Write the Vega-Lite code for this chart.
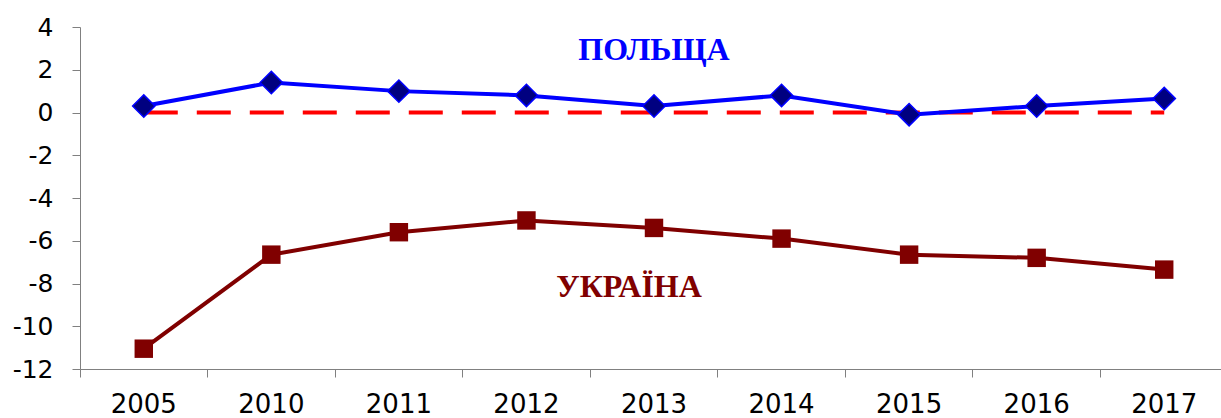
{
  "$schema": "https://vega.github.io/schema/vega-lite/v6.json",
  "width": 1148,
  "height": 342,
  "autosize": {"type": "none"},
  "padding": {"left": 80, "top": 27, "right": 0, "bottom": 49},
  "background": "white",
  "config": {"view": {"stroke": null}},
  "datasets": {
    "series": [
      {"year": "2005", "country": "ПОЛЬЩА", "value": 0.3},
      {"year": "2010", "country": "ПОЛЬЩА", "value": 1.4},
      {"year": "2011", "country": "ПОЛЬЩА", "value": 1.0},
      {"year": "2012", "country": "ПОЛЬЩА", "value": 0.8},
      {"year": "2013", "country": "ПОЛЬЩА", "value": 0.3},
      {"year": "2014", "country": "ПОЛЬЩА", "value": 0.8},
      {"year": "2015", "country": "ПОЛЬЩА", "value": -0.1},
      {"year": "2016", "country": "ПОЛЬЩА", "value": 0.3},
      {"year": "2017", "country": "ПОЛЬЩА", "value": 0.65},
      {"year": "2005", "country": "УКРАЇНА", "value": -11.05},
      {"year": "2010", "country": "УКРАЇНА", "value": -6.65},
      {"year": "2011", "country": "УКРАЇНА", "value": -5.6},
      {"year": "2012", "country": "УКРАЇНА", "value": -5.05},
      {"year": "2013", "country": "УКРАЇНА", "value": -5.4},
      {"year": "2014", "country": "УКРАЇНА", "value": -5.9},
      {"year": "2015", "country": "УКРАЇНА", "value": -6.65},
      {"year": "2016", "country": "УКРАЇНА", "value": -6.8},
      {"year": "2017", "country": "УКРАЇНА", "value": -7.35}
    ],
    "zero": [
      {"year": "2005", "value": 0},
      {"year": "2017", "value": 0}
    ],
    "labels": [
      {"year": "2013", "country": "ПОЛЬЩА", "value": 2.92},
      {"year": "2013", "country": "УКРАЇНА", "value": -8.16}
    ]
  },
  "encoding": {
    "x": {
      "field": "year",
      "type": "ordinal",
      "scale": {"type": "band", "paddingInner": 0, "paddingOuter": 0, "domain": ["2005","2010","2011","2012","2013","2014","2015","2016","2017"]},
      "axis": {
        "title": null,
        "bandPosition": 0,
        "labelOffset": 0,
        "labelAngle": 0,
        "labelFont": "DejaVu Sans",
        "labelFontSize": 26,
        "labelColor": "black",
        "labelPadding": 14,
        "labelBaseline": "top",
        "tickSize": 8,
        "tickColor": "#808080",
        "domainColor": "#808080",
        "grid": false
      }
    },
    "y": {
      "field": "value",
      "type": "quantitative",
      "scale": {"domain": [-12, 4], "nice": false, "zero": false},
      "axis": {
        "title": null,
        "values": [-12,-10,-8,-6,-4,-2,0,2,4],
        "labelExpr": "replace(datum.label, '\u2212', '-')",
        "labelFont": "DejaVu Sans",
        "labelFontSize": 25,
        "labelColor": "black",
        "labelPadding": 19,
        "tickSize": 8,
        "tickColor": "#808080",
        "domainColor": "#808080",
        "grid": false
      }
    }
  },
  "layer": [
    {
      "data": {"name": "zero"},
      "mark": {"type": "line", "color": "#FF0000", "strokeWidth": 4, "strokeDash": [34, 19]},
      "encoding": {}
    },
    {
      "data": {"name": "series"},
      "transform": [{"filter": "datum.country === 'ПОЛЬЩА'"}],
      "mark": {"type": "line", "color": "#0000FF", "strokeWidth": 4},
      "encoding": {}
    },
    {
      "data": {"name": "series"},
      "transform": [{"filter": "datum.country === 'ПОЛЬЩА'"}],
      "mark": {"type": "point", "shape": "diamond", "size": 500, "filled": true, "fill": "#000080", "stroke": "#0000FF", "strokeWidth": 1.5, "opacity": 1},
      "encoding": {}
    },
    {
      "data": {"name": "series"},
      "transform": [{"filter": "datum.country === 'УКРАЇНА'"}],
      "mark": {"type": "line", "color": "#800000", "strokeWidth": 4},
      "encoding": {}
    },
    {
      "data": {"name": "series"},
      "transform": [{"filter": "datum.country === 'УКРАЇНА'"}],
      "mark": {"type": "point", "shape": "square", "size": 340, "filled": true, "fill": "#800000", "strokeWidth": 0, "opacity": 1},
      "encoding": {}
    },
    {
      "data": {"name": "labels"},
      "transform": [{"filter": "datum.country === 'ПОЛЬЩА'"}],
      "mark": {"type": "text", "font": "Liberation Serif", "fontWeight": "bold", "fontSize": 32, "color": "#0000FF", "baseline": "middle", "align": "center"},
      "encoding": {"text": {"field": "country"}}
    },
    {
      "data": {"name": "labels"},
      "transform": [{"filter": "datum.country === 'УКРАЇНА'"}],
      "mark": {"type": "text", "font": "Liberation Serif", "fontWeight": "bold", "fontSize": 32, "color": "#800000", "baseline": "middle", "align": "center", "dx": -25},
      "encoding": {"text": {"field": "country"}}
    }
  ]
}
